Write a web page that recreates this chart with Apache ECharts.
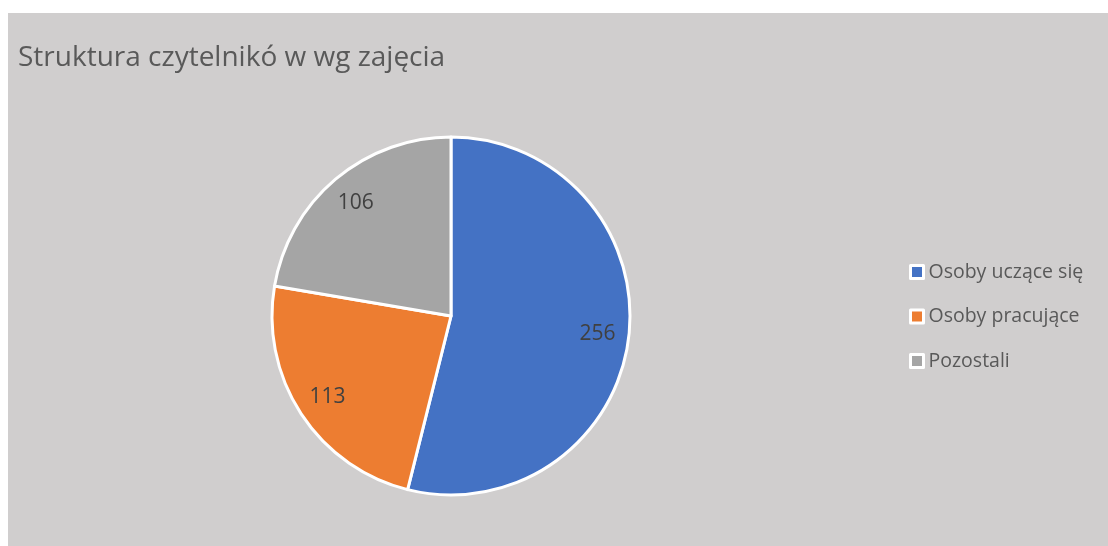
<!DOCTYPE html>
<html>
<head>
<meta charset="utf-8">
<script src="https://cdn.jsdelivr.net/npm/echarts@6/dist/echarts.min.js"></script>
<style>
  html, body { margin: 0; padding: 0; background: #fff; }
  #chart { position: absolute; left: 8px; top: 13px; width: 1100px; height: 533px; }
</style>
</head>
<body>
<div id="chart"></div>
<script>
const titleText = "Struktura czytelnikó w wg zajęcia";
const categories = ["Osoby uczące się", "Osoby pracujące", "Pozostali"];
const values = [256, 113, 106];
const colors = ["#4472C4", "#ED7D31", "#A5A5A5"];

const textColor = "#595959";
const font = "'Open Sans', sans-serif";

const pieData = categories.map((name, i) => ({
  name,
  value: values[i],
  itemStyle: { color: colors[i] },
}));

const myChart = echarts.init(document.getElementById("chart"));
myChart.setOption({
  backgroundColor: "#D0CECE",
  animation: false,
  title: {
    text: titleText,
    left: 5,
    top: 26,
    textStyle: {
      color: textColor,
      fontFamily: font,
      fontSize: 28,
      fontWeight: "normal",
    },
  },
  legend: {
    orient: "vertical",
    left: 896,
    top: 244,
    itemWidth: 13,
    itemHeight: 13,
    itemGap: 24.5,
    icon: "rect",
    data: categories.map((name, i) => ({
      name,
      itemStyle: { color: colors[i], borderColor: "#fff", borderWidth: 3 },
    })),
    textStyle: { color: textColor, fontFamily: font, fontSize: 19.5 },
  },
  series: [
    {
      // actual slices
      type: "pie",
      center: [443, 303],
      radius: 179,
      startAngle: 90,
      clockwise: true,
      label: { show: false },
      labelLine: { show: false },
      itemStyle: { borderColor: "#fff", borderWidth: 3 },
      emphasis: { disabled: true },
      data: pieData,
    },
    {
      // transparent ring used to put value labels near the rim
      type: "pie",
      center: [443, 303],
      radius: [110, 179],
      startAngle: 90,
      clockwise: true,
      silent: true,
      itemStyle: { color: "rgba(0,0,0,0)" },
      label: {
        show: true,
        position: "inside",
        formatter: "{c}",
        color: "#404040",
        fontFamily: font,
        fontSize: 21,
      },
      labelLine: { show: false },
      emphasis: { disabled: true },
      data: categories.map((name, i) => ({ name, value: values[i] })),
    },
  ],
});
</script>
</body>
</html>
